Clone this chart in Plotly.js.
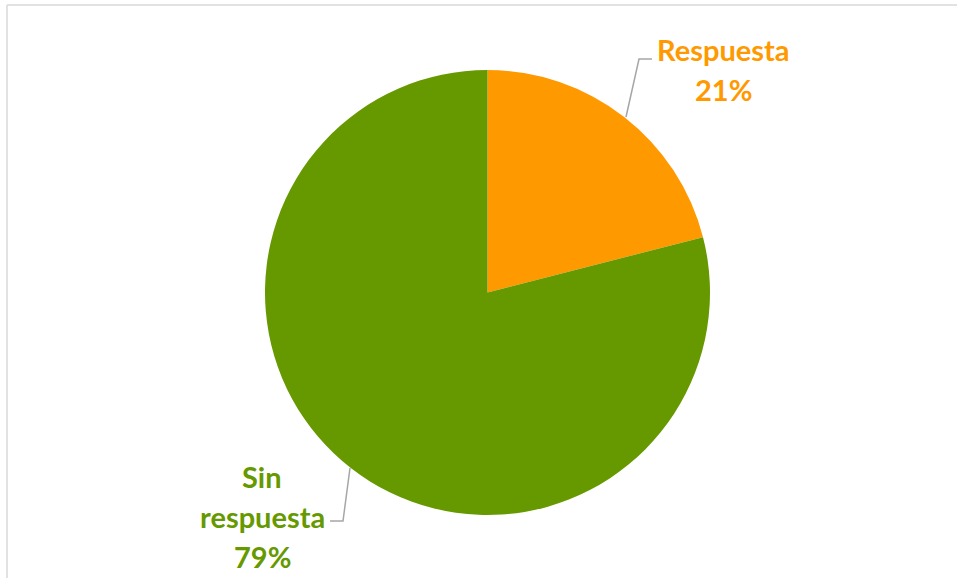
<!DOCTYPE html>
<html>
<head>
<meta charset="utf-8">
<script src="https://cdn.plot.ly/plotly-3.0.1.min.js"></script>
<style>html,body{margin:0;padding:0;background:#fff;}#chart{width:958px;height:578px;}</style>
</head>
<body>
<div id="chart"></div>
<script>
const labels = ["Respuesta", "Sin respuesta"];
const values = [21, 79];
const displayLines = [["Respuesta"], ["Sin", "respuesta"]];
const colors = ["#FF9900", "#669900"];

const W = 958, H = 578;
const px = x => x / W;
const py = y => 1 - y / H;

const total = values.reduce((a, b) => a + b, 0);
const pcts = values.map(v => Math.round(v / total * 100) + "%");

// label block anchors (pixel centers of first line) and line spacing
const labelAnchors = [{x: 723, y: 50}, {x: 262, y: 476}];
const lineGap = 40;

const annotations = [];
labels.forEach((lab, i) => {
  const lines = displayLines[i].concat([pcts[i]]);
  lines.forEach((t, j) => {
    annotations.push({
      xref: "paper", yref: "paper",
      x: px(labelAnchors[i].x), y: py(labelAnchors[i].y + j * lineGap),
      xanchor: "center", yanchor: "middle",
      text: "<b>" + t + "</b>", showarrow: false,
      font: {family: "Lato, 'Open Sans', sans-serif", size: 29, color: colors[i]}
    });
  });
});

const lineStyle = {color: "#A6A6A6", width: 1.5};
const shapes = [
  // chart frame
  {type: "line", xref: "paper", yref: "paper", x0: px(7), x1: px(957), y0: py(5), y1: py(5), line: {color: "#D9D9D9", width: 1.5}},
  {type: "line", xref: "paper", yref: "paper", x0: px(7), x1: px(7), y0: py(5), y1: py(578), line: {color: "#D9D9D9", width: 1.5}},
  // leader lines
  {type: "path", xref: "paper", yref: "paper",
   path: `M ${px(626)} ${py(117)} L ${px(639)} ${py(59)} L ${px(652)} ${py(59)}`, line: lineStyle},
  {type: "path", xref: "paper", yref: "paper",
   path: `M ${px(350)} ${py(468)} L ${px(343)} ${py(521)} L ${px(330)} ${py(521)}`, line: lineStyle}
];

const data = [{
  type: "pie",
  labels: labels,
  values: values,
  marker: {colors: colors, line: {width: 0}},
  sort: false,
  direction: "clockwise",
  rotation: 0,
  textinfo: "none",
  hoverinfo: "label+percent",
  domain: {x: [px(265), px(710)], y: [py(515), py(70)]}
}];

const layout = {
  width: W, height: H,
  margin: {l: 0, r: 0, t: 0, b: 0},
  paper_bgcolor: "#FFFFFF",
  showlegend: false,
  annotations: annotations,
  shapes: shapes
};

Plotly.newPlot("chart", data, layout, {displayModeBar: false, staticPlot: true});
</script>
</body>
</html>
